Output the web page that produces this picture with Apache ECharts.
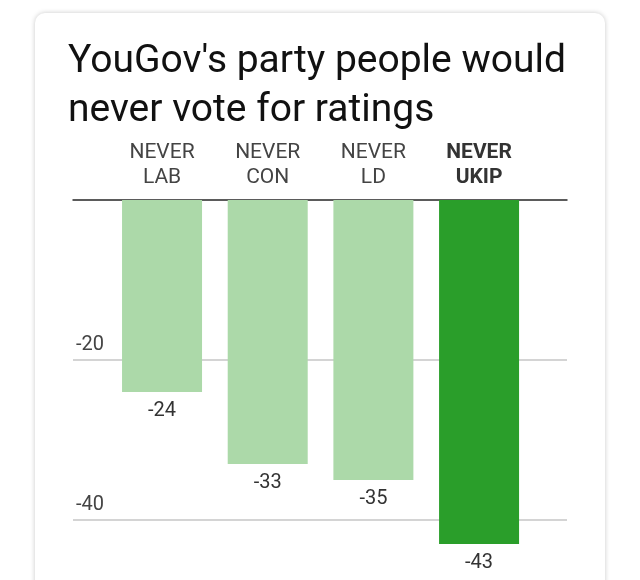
<!DOCTYPE html>
<html>
<head>
<meta charset="utf-8">
<script src="https://cdn.jsdelivr.net/npm/echarts@6/dist/echarts.min.js"></script>
<style>
  html, body { margin: 0; padding: 0; background: #ffffff; width: 640px; height: 580px; overflow: hidden; }
  #card { position: absolute; left: 35px; top: 13px; width: 570px; height: 620px; background: #fff;
          border-radius: 10px; box-shadow: 0 0 5px rgba(0,0,0,0.22); }
  #chart { position: absolute; left: 0; top: 0; width: 640px; height: 580px; }
</style>
</head>
<body>
<div id="card"></div>
<div id="chart"></div>
<script>
const titleText = "YouGov's party people would\nnever vote for ratings";
const categories = ["NEVER\nLAB", "NEVER\nCON", "NEVER\nLD", "NEVER\nUKIP"];
const values = [-24, -33, -35, -43];
const highlight = [false, false, false, true];
const yTicks = [0, -20, -40, -60];

const lightGreen = '#acd9a9';
const darkGreen = '#2a9e2a';
const labelFont = 'Roboto, "Liberation Sans", Arial, sans-serif';

const chart = echarts.init(document.getElementById('chart'), null, { renderer: 'canvas' });
chart.setOption({
  backgroundColor: 'transparent',
  animation: false,
  title: {
    text: titleText,
    left: 63,
    top: 33,
    textStyle: { fontFamily: 'Roboto', fontSize: 39, fontWeight: 'normal', color: '#111', lineHeight: 49 }
  },
  grid: [
    { left: 73, width: 494, top: 200, height: 480, outerBoundsMode: 'none', containLabel: false },
    { left: 109.2, width: 422.7, top: 200, height: 480, outerBoundsMode: 'none', containLabel: false }
  ],
  xAxis: [
    { gridIndex: 0, type: 'value', min: 0, max: 1, position: 'top',
      axisLine: { show: true, onZero: false, lineStyle: { color: '#333', width: 1.5 } },
      axisTick: { show: false }, axisLabel: { show: false }, splitLine: { show: false } },
    { gridIndex: 1, type: 'category', data: categories, position: 'top',
      axisLine: { show: false }, axisTick: { show: false }, splitLine: { show: false },
      axisLabel: {
        interval: 0, margin: 10,
        fontFamily: labelFont, fontSize: 21, lineHeight: 25, color: '#444',
        formatter: function (v, i) { return highlight[i] ? '{b|' + v + '}' : v; },
        rich: { b: { fontFamily: labelFont, fontSize: 21, lineHeight: 25, fontWeight: 'bold', color: '#333' } }
      } }
  ],
  yAxis: [
    { gridIndex: 0, type: 'value', min: -60, max: 0, interval: 20,
      axisLine: { show: false }, axisTick: { show: false },
      splitLine: { show: true, lineStyle: { color: '#d4d4d4', width: 2 } },
      axisLabel: {
        inside: true, margin: 3, verticalAlign: 'bottom', padding: [0, 0, 5, 0],
        fontFamily: labelFont, fontSize: 20, color: '#444',
        formatter: function (v) { return (v === 0 || yTicks.indexOf(v) < 0) ? '' : String(v); }
      } },
    { gridIndex: 1, type: 'value', min: -60, max: 0, interval: 20, show: false,
      splitLine: { show: false } }
  ],
  series: [{
    type: 'bar',
    xAxisIndex: 1, yAxisIndex: 1,
    barWidth: 80,
    data: values.map(function (v, i) {
      return { value: v, itemStyle: { color: highlight[i] ? darkGreen : lightGreen } };
    }),
    label: {
      show: true, position: 'bottom', distance: 9,
      fontFamily: labelFont, fontSize: 20, color: '#333'
    }
  }]
});
</script>
</body>
</html>
